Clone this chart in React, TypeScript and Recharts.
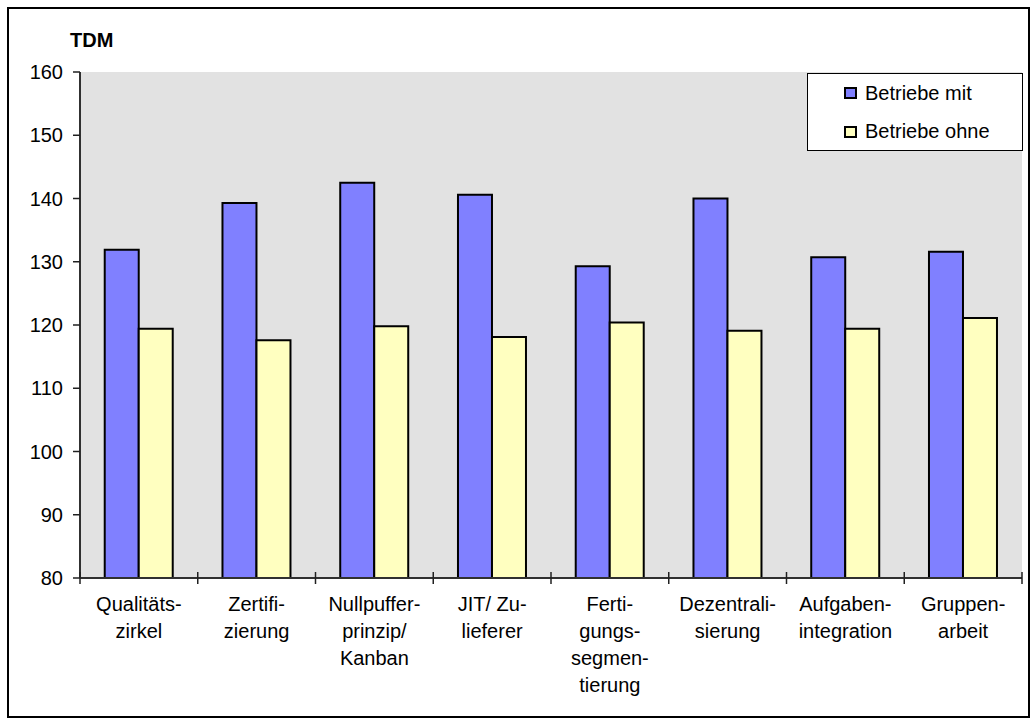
import { Bar, BarChart, CartesianGrid, XAxis, YAxis } from "recharts";

// Kategorien (Zeilenumbrüche wie im Original)
const categories = [
  "Qualitäts-\nzirkel",
  "Zertifi-\nzierung",
  "Nullpuffer-\nprinzip/\nKanban",
  "JIT/ Zu-\nlieferer",
  "Ferti-\ngungs-\nsegmen-\ntierung",
  "Dezentrali-\nsierung",
  "Aufgaben-\nintegration",
  "Gruppen-\narbeit",
];
const betriebeMit = [131.9, 139.3, 142.5, 140.6, 129.3, 140.0, 130.7, 131.6];
const betriebeOhne = [119.4, 117.6, 119.8, 118.1, 120.4, 119.1, 119.4, 121.1];
const yTicks = [80, 90, 100, 110, 120, 130, 140, 150, 160];

const series = [
  { key: "mit", name: "Betriebe mit", color: "#8080ff" },
  { key: "ohne", name: "Betriebe ohne", color: "#ffffc0" },
];

const data = categories.map((name, i) => ({
  name,
  mit: betriebeMit[i],
  ohne: betriebeOhne[i],
}));

const W = 1032;
const H = 724;
const PLOT_LEFT = 80;
const PLOT_RIGHT = 1022;
const PLOT_TOP = 72;
const PLOT_BOTTOM = 578;
const X_AXIS_H = 140;
const BAND = (PLOT_RIGHT - PLOT_LEFT) / categories.length;
const FONT = "'Liberation Sans', Arial, sans-serif";
const FS = 20;

// category labels centred in the band, tick marks on the band boundaries
function CategoryTick(props: any) {
  const { x, index, payload } = props;
  const lines: string[] = String(payload.value).split("\n");
  const half = BAND / 2;
  return (
    <g>
      <line x1={x - half} x2={x - half} y1={PLOT_BOTTOM - 6} y2={PLOT_BOTTOM + 6} stroke="#202020" strokeWidth={1.5} />
      {index === categories.length - 1 && (
        <line x1={x + half} x2={x + half} y1={PLOT_BOTTOM - 6} y2={PLOT_BOTTOM + 6} stroke="#202020" strokeWidth={1.5} />
      )}
      <text textAnchor="middle" fontSize={FS} fontFamily={FONT} fill="#000">
        {lines.map((l, i) => (
          <tspan key={i} x={x} y={PLOT_BOTTOM + 33 + i * 27}>
            {l}
          </tspan>
        ))}
      </text>
    </g>
  );
}

// legend drawn as an overlay so it takes no room from the plot
function LegendBox() {
  return (
    <div
      style={{
        position: "absolute",
        left: 807,
        top: PLOT_TOP + 1,
        width: PLOT_RIGHT - 807 + 1,
        height: 78,
        boxSizing: "border-box",
        border: "1px solid #000",
        background: "#fff",
        fontFamily: FONT,
        fontSize: FS,
        color: "#000",
      }}
    >
      {series.map((s) => (
        <div key={s.key} style={{ display: "flex", alignItems: "center", height: 38.5, paddingLeft: 36 }}>
          <span
            style={{
              display: "inline-block",
              width: 9,
              height: 8,
              border: "2px solid #000",
              background: s.color,
              marginRight: 8,
            }}
          />
          <span>{s.name}</span>
        </div>
      ))}
    </div>
  );
}

export default function App() {
  return (
    <div style={{ position: "absolute", left: 0, top: 0, width: W, height: H, background: "#fff" }}>
      <div
        style={{
          position: "absolute",
          left: 7,
          top: 7,
          width: 1023,
          height: 711,
          boxSizing: "border-box",
          border: "2px solid #000",
        }}
      />
      <div style={{ position: "absolute", left: 0, top: 0 }}>
        <BarChart
          width={W}
          height={H}
          data={data}
          margin={{ top: PLOT_TOP, right: W - PLOT_RIGHT, bottom: H - PLOT_BOTTOM - X_AXIS_H, left: 0 }}
          barCategoryGap="21%"
          barGap={0}
        >
          <CartesianGrid fill="#e2e2e2" stroke="none" horizontal={false} vertical={false} />
          <XAxis
            dataKey="name"
            height={X_AXIS_H}
            interval={0}
            tickLine={false}
            tickSize={0}
            axisLine={{ stroke: "#303030", strokeWidth: 2 }}
            tick={<CategoryTick />}
          />
          <XAxis
            xAxisId="top"
            orientation="top"
            dataKey="name"
            height={0}
            tick={false}
            tickLine={false}
            axisLine={{ stroke: "#8a8a8a", strokeWidth: 2 }}
          />
          <YAxis
            width={PLOT_LEFT}
            domain={[80, 160]}
            ticks={yTicks}
            interval={0}
            tickSize={7}
            tickMargin={10}
            tickLine={{ stroke: "#202020", strokeWidth: 1.5 }}
            axisLine={{ stroke: "#303030", strokeWidth: 2 }}
            tick={{ fontSize: FS, fontFamily: FONT, fill: "#000" }}
            label={{
              content: (p: any) => (
                <text
                  x={p.viewBox.x + 70}
                  y={p.viewBox.y - 25}
                  fontSize={FS}
                  fontWeight="bold"
                  fontFamily={FONT}
                  fill="#000"
                >
                  TDM
                </text>
              ),
            }}
          />
          <YAxis
            yAxisId="right"
            orientation="right"
            width={0}
            domain={[80, 160]}
            tick={false}
            tickLine={false}
            axisLine={{ stroke: "#8a8a8a", strokeWidth: 2 }}
          />
          {series.map((s) => (
            <Bar
              key={s.key}
              dataKey={s.key}
              name={s.name}
              fill={s.color}
              stroke="#000"
              strokeWidth={2}
              isAnimationActive={false}
            />
          ))}
        </BarChart>
      </div>
      <LegendBox />
    </div>
  );
}
